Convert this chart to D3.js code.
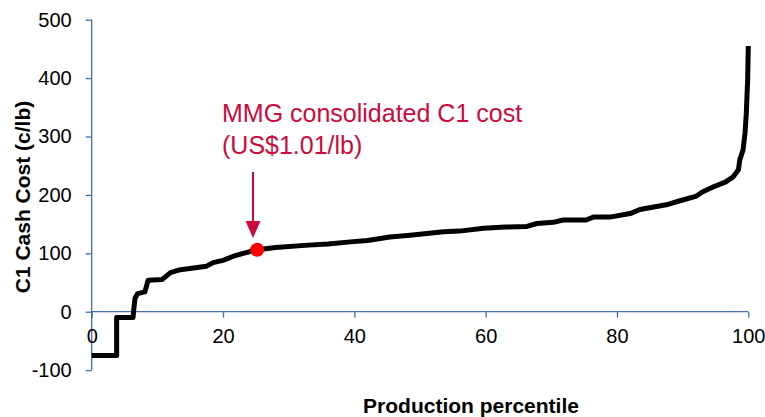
<!DOCTYPE html>
<html><head><meta charset="utf-8">
<script src="https://cdn.jsdelivr.net/npm/d3@7"></script>
<style>
body{margin:0;background:#fff;}
svg{display:block;font-family:Arial,"Liberation Sans",sans-serif;}
</style></head>
<body><svg id="c" width="765" height="417"></svg>
<script>
const percentile = [0,3.8,3.8,6.3,6.4,6.6,7,8.1,8.6,10.7,12,13.5,15.5,17.5,18.5,20,21.6,23.1,24.1,25.2,28,33,36,39.8,42,45.4,48.5,53.6,56,59.7,63,66.3,67.8,70.3,71.8,75.3,76.4,78.9,82,83.5,87.5,89.6,92.1,93,94.7,96.5,97.7,98.5,98.7,99.2,99.5,99.7,99.9,100];
const cost = [-75,-75,-10,-10,3,23,31,34,54,55,67,72,75,78,84,88,95,100,103,106,110,114,116,120,122,128,131,137,138,143,145,146,151,153,157,157,162,162,168,175,183,190,198,205,214,222,231,243,260,277,306,340,397,455];
const xTicks = [0,20,40,60,80,100];
const yTicks = [-100,0,100,200,300,400,500];
const mmgPoint = [25.2, 106];
const annotationLines = ["MMG consolidated C1 cost","(US$1.01/lb)"];
const xTitle = "Production percentile";
const yTitle = "C1 Cash Cost (c/lb)";

const svg = d3.select("#c");
const x = d3.scaleLinear().domain([0,100]).range([91.7,748.3]);
const y = d3.scaleLinear().domain([-100,500]).range([370.1,19.7]);
const axisColor = "#4470ae";

const gy = svg.append("g").attr("transform",`translate(${x(0)},0)`)
  .call(d3.axisLeft(y).tickValues(yTicks).tickSize(6).tickPadding(14).tickFormat(d=>String(d)));
const gx = svg.append("g").attr("transform",`translate(0,${y(0)})`)
  .call(d3.axisBottom(x).tickValues(xTicks).tickSize(6).tickPadding(11).tickFormat(d=>String(d)));
[gx,gy].forEach(g=>{
  g.select(".domain").attr("stroke",axisColor).attr("stroke-width",1.3);
  g.selectAll(".tick line").attr("stroke",axisColor).attr("stroke-width",1.3);
  g.selectAll(".tick text").attr("fill","#000").style("font-size","20px").style("font-family","Arial, 'Liberation Sans', sans-serif");
});
gx.select(".domain").attr("d",`M${x(0)},0H${x(100)}`);
gy.select(".domain").attr("d",`M0,${y(-100)}V${y(500)}`);

const data = percentile.map((p,i)=>[p,cost[i]]);
svg.append("path").datum(data)
  .attr("fill","none").attr("stroke","#000").attr("stroke-width",5)
  .attr("stroke-linejoin","round")
  .attr("d",d3.line().x(d=>x(d[0])).y(d=>y(d[1])));

const red = "#cc0a3c";
const ax = 253;
svg.append("line").attr("x1",ax).attr("x2",ax).attr("y1",172).attr("y2",224)
  .attr("stroke",red).attr("stroke-width",2);
svg.append("path").attr("d",`M${ax-7.5},221L${ax+7.5},221L${ax},238Z`).attr("fill",red);

svg.append("circle").attr("cx",x(mmgPoint[0])).attr("cy",y(mmgPoint[1])).attr("r",7).attr("fill","#ff0000");

svg.append("text").attr("x",222).attr("y",122).attr("fill",red).style("font-size","25px")
  .selectAll("tspan").data(annotationLines).join("tspan")
  .attr("x",222).attr("dy",(d,i)=>i?32:0).text(d=>d);

svg.append("text").attr("x",471).attr("y",413).attr("text-anchor","middle")
  .style("font-size","21px").style("font-weight","bold").text(xTitle);
svg.append("text").attr("transform","translate(30,197) rotate(-90)").attr("text-anchor","middle")
  .style("font-size","21px").style("font-weight","bold").text(yTitle);
</script></body></html>
